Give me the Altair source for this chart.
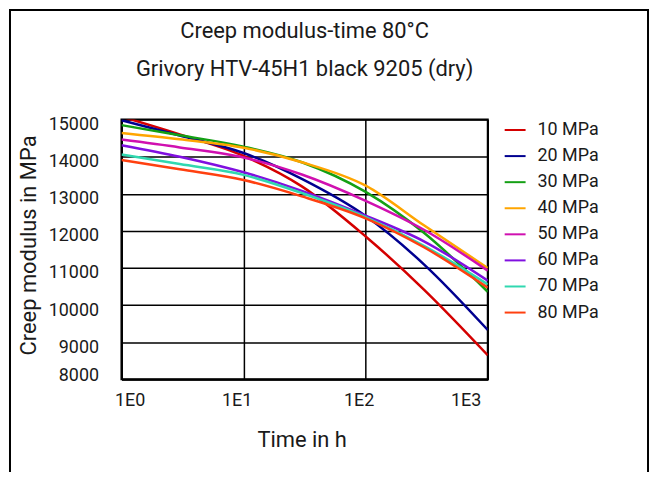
import altair as alt
import pandas as pd

# ---- data ----
times = [1, 3, 10, 30, 100, 300, 1000]
series = ["10 MPa", "20 MPa", "30 MPa", "40 MPa", "50 MPa", "60 MPa", "70 MPa", "80 MPa"]
colors = ["#d40000", "#000090", "#14a014", "#ffa500", "#d010b0", "#8010e0", "#30d8b0", "#ff4010"]

mod_10 = [15080, 14600, 14020, 13200, 11850, 10420, 8650]
mod_20 = [14980, 14570, 14100, 13400, 12400, 11100, 9330]
mod_30 = [14850, 14580, 14270, 13850, 13050, 11950, 10360]
mod_40 = [14640, 14470, 14240, 13850, 13220, 12150, 11000]
mod_50 = [14460, 14250, 13980, 13520, 12810, 12030, 10930]
mod_60 = [14310, 14000, 13580, 13080, 12410, 11720, 10660]
mod_70 = [14060, 13800, 13510, 13020, 12370, 11600, 10560]
mod_80 = [13910, 13660, 13370, 12930, 12340, 11560, 10470]
all_mods = [mod_10, mod_20, mod_30, mod_40, mod_50, mod_60, mod_70, mod_80]

x_ticks = [1, 10, 100, 1000]
x_labels = ["1E0", "1E1", "1E2", "1E3"]
y_ticks = [8000, 9000, 10000, 11000, 12000, 13000, 14000, 15000]

rows = []
for s, vals in zip(series, all_mods):
    for t, v in zip(times, vals):
        rows.append({"t": t, "E": v, "s": s})
df = pd.DataFrame(rows)

x_label_expr = " : ".join(f"datum.value == {v} ? '{l}'" for v, l in zip(x_ticks, x_labels)) + " : ''"

FONT = "Roboto"
TXT = "#1a1a1a"

lines = alt.Chart(df).mark_line(strokeWidth=2.5, interpolate="monotone", clip=True).encode(
    x=alt.X(
        "t:Q",
        scale=alt.Scale(type="log", domain=[1, 1000], nice=False),
        axis=alt.Axis(
            values=x_ticks, labelExpr=x_label_expr, title="Time in h",
            ticks=False, labelPadding=12, labelOffset=-7,
            titleX=181, titleY=60, titleBaseline="middle", titleAlign="center",
        ),
    ),
    y=alt.Y(
        "E:Q",
        scale=alt.Scale(domain=[8000, 15000], nice=False, zero=False),
        axis=alt.Axis(
            values=y_ticks, format="d", title="Creep modulus in MPa",
            ticks=False, labelPadding=23, labelOffset=5,
            labelBaseline={"condition": {"test": "datum.value == 8000", "value": "bottom"}, "value": "middle"},
            titleX=-93, titleY=126, titleBaseline="middle", titleAlign="center",
        ),
    ),
    color=alt.Color(
        "s:N",
        scale=alt.Scale(domain=series, range=colors),
        legend=alt.Legend(
            title=None, orient="none", legendX=384, legendY=-1,
            symbolType="stroke", symbolSize=441, symbolStrokeWidth=2,
            labelFont=FONT, labelFontSize=18, labelColor=TXT, labelOffset=11,
            rowPadding=5.2, padding=0,
        ),
    ),
)

border = alt.Chart(alt.Data(values=[{}])).mark_rect(
    filled=False, stroke="#000", strokeWidth=2, clip=False
).encode(
    x=alt.value(-112), x2=alt.value(529), y=alt.value(-110), y2=alt.value(400)
)

chart = alt.layer(lines, border).properties(
    width=368,
    height=261,
    autosize=alt.AutoSizeParams(type="none"),
    padding={"left": 114, "top": 111, "right": 163, "bottom": 92},
    title=alt.TitleParams(
        text=["Creep modulus-time 80°C", "Grivory HTV-45H1 black 9205 (dry)"],
        font=FONT, fontSize=22, fontWeight="normal", color=TXT,
        lineHeight=38, anchor="middle", offset=39, dy=111,
    ),
).configure_view(
    stroke="#000", strokeWidth=2
).configure_axis(
    labelFont=FONT, labelFontSize=18, labelColor=TXT,
    titleFont=FONT, titleFontSize=22, titleFontWeight="normal", titleColor=TXT,
    grid=True, gridColor="#000", gridWidth=1.5, gridOpacity=1,
    domainColor="#000", domainWidth=2,
)

chart.save("out.html", embed_options={"renderer": "svg", "actions": False})
